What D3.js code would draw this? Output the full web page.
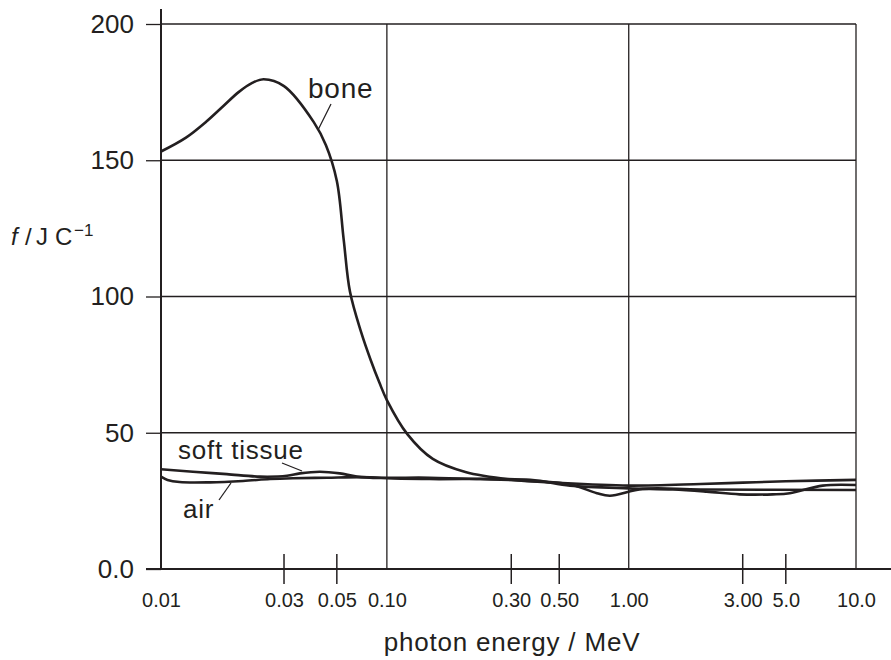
<!DOCTYPE html>
<html>
<head>
<meta charset="utf-8">
<script src="https://cdn.jsdelivr.net/npm/d3@7"></script>
<style>
  body { margin: 0; background: #fff; }
  svg { display: block; font-family: "Liberation Sans", Arial, Helvetica, sans-serif; }
  text { fill: #231f20; }
</style>
</head>
<body>
<svg id="chart"></svg>
<script>
// ---- data ----
var xTickValues = [0.01, 0.03, 0.05, 0.1, 0.3, 0.5, 1, 3, 5, 10];
var xTickLabels = ["0.01", "0.03", "0.05", "0.10", "0.30", "0.50", "1.00", "3.00", "5.0", "10.0"];
var xGridValues = [0.1, 1, 10];
var xMinorValues = [0.03, 0.05, 0.3, 0.5, 3, 5];
var yTickValues = [0, 50, 100, 150, 200];
var yTickLabels = ["0.0", "50", "100", "150", "200"];

var boneEnergy = [0.01, 0.0125, 0.015, 0.0175, 0.02, 0.0225, 0.025, 0.03, 0.04, 0.045, 0.05, 0.055, 0.06, 0.07, 0.08, 0.09, 0.1, 0.12, 0.15, 0.2, 0.3, 0.5, 1, 2, 3, 5, 10];
var boneF      = [153.2, 158.3, 164.2, 170.0, 175.0, 178.3, 179.7, 177.2, 164.0, 155.5, 142.4, 120.8, 101.7, 86.9, 76.6, 68.5, 62.0, 49.4, 40.4, 35.6, 32.8, 31.6, 30.6, 31.2, 31.7, 32.2, 32.7];

var tissueEnergy = [0.01, 0.0133, 0.018, 0.0242, 0.0309, 0.035, 0.0424, 0.0521, 0.066, 0.1, 0.146, 0.367, 0.557, 1.0, 1.53, 2.12, 2.91, 4.28, 5.2, 7.2, 10];
var tissueF      = [36.6, 35.7, 34.8, 33.9, 34.2, 35.1, 35.7, 35.1, 33.9, 33.3, 33.0, 32.7, 30.6, 29.6, 29.2, 28.4, 27.4, 27.4, 27.8, 30.6, 30.8];

var airEnergy = [0.01, 0.0106, 0.0118, 0.0155, 0.0208, 0.0265, 0.0327, 0.0454, 0.0688, 0.1, 0.146, 0.228, 0.367, 0.557, 0.728, 0.829, 1.144, 2.0, 10];
var airF      = [33.9, 32.7, 31.9, 31.8, 32.3, 33.0, 33.3, 33.5, 33.7, 33.5, 33.5, 33.0, 32.3, 31.1, 27.8, 26.9, 29.4, 29.2, 29.0];

// ---- layout ----
var width = 891,
    height = 660,
    margin = {top: 24, right: 35, bottom: 91, left: 161},
    ink = "#231f20";

var plotW = width - margin.left - margin.right;

// the printed energy axis is not evenly logarithmic, so the scale is piecewise
var xStops = [0, 0.177, 0.253, 0.325, 0.504, 0.573, 0.673, 0.837, 0.899, 1];

var x = d3.scaleLog()
    .domain(xTickValues)
    .range(xStops.map(f => margin.left + f * plotW));

var y = d3.scaleLinear()
    .domain([0, 200])
    .range([height - margin.bottom, margin.top]);

var svg = d3.select("#chart")
    .attr("width", width)
    .attr("height", height);

// grid
svg.append("g")
    .selectAll("line")
    .data(yTickValues.filter(d => d > 0))
    .join("line")
    .attr("x1", margin.left)
    .attr("x2", x(10))
    .attr("y1", d => y(d))
    .attr("y2", d => y(d))
    .attr("stroke", ink)
    .attr("stroke-width", 1.3);

svg.append("g")
    .selectAll("line")
    .data(xGridValues)
    .join("line")
    .attr("x1", d => x(d))
    .attr("x2", d => x(d))
    .attr("y1", y(200))
    .attr("y2", y(0))
    .attr("stroke", ink)
    .attr("stroke-width", 1.3);

// y axis
var yAxis = svg.append("g")
    .attr("transform", `translate(${margin.left}, 0)`)
    .call(d3.axisLeft(y)
        .tickValues(yTickValues)
        .tickFormat((d, i) => yTickLabels[i])
        .tickSize(15)
        .tickPadding(12));
yAxis.select(".domain").remove();
yAxis.selectAll(".tick line").attr("stroke", ink).attr("stroke-width", 1.3);
yAxis.selectAll(".tick text")
    .attr("fill", ink)
    .style("font-size", "26px")
    .style("font-family", "inherit");

svg.append("line")
    .attr("x1", margin.left).attr("x2", margin.left)
    .attr("y1", 9).attr("y2", y(0))
    .attr("stroke", ink)
    .attr("stroke-width", 2);

// x axis
svg.append("line")
    .attr("x1", margin.left - 15).attr("x2", width)
    .attr("y1", y(0)).attr("y2", y(0))
    .attr("stroke", ink)
    .attr("stroke-width", 2);

svg.append("g")
    .selectAll("line")
    .data(xMinorValues)
    .join("line")
    .attr("x1", d => x(d))
    .attr("x2", d => x(d))
    .attr("y1", y(0) - 15)
    .attr("y2", y(0) + 15)
    .attr("stroke", ink)
    .attr("stroke-width", 1.5);

var xAxis = svg.append("g")
    .attr("transform", `translate(0, ${y(0)})`)
    .call(d3.axisBottom(x)
        .tickValues(xTickValues)
        .tickFormat((d, i) => xTickLabels[i])
        .tickSize(0)
        .tickPadding(24));
xAxis.select(".domain").remove();
xAxis.selectAll(".tick text")
    .attr("fill", ink)
    .style("font-size", "20px")
    .style("font-family", "inherit");

// axis titles
svg.append("text")
    .attr("x", 512)
    .attr("y", 651)
    .attr("text-anchor", "middle")
    .style("font-size", "26px")
    .style("letter-spacing", "0.8px")
    .text("photon energy / MeV");

var ylab = svg.append("text")
    .attr("y", 245)
    .style("font-size", "24px");
ylab.append("tspan").attr("x", 11).style("font-style", "italic").text("f");
ylab.append("tspan").attr("x", 25).text("/");
ylab.append("tspan").attr("x", 36).text("J");
ylab.append("tspan").attr("x", 55).text("C");
ylab.append("tspan").attr("x", 74).attr("y", 236).style("font-size", "17px").text("\u22121");

// curves
var line = d3.line()
    .x(d => x(d[0]))
    .y(d => y(d[1]))
    .curve(d3.curveCatmullRom.alpha(0.5));

var series = [
    d3.zip(boneEnergy, boneF),
    d3.zip(tissueEnergy, tissueF),
    d3.zip(airEnergy, airF)
];

svg.append("g")
    .selectAll("path")
    .data(series)
    .join("path")
    .attr("d", line)
    .attr("fill", "none")
    .attr("stroke", ink)
    .attr("stroke-width", 2.6)
    .attr("stroke-linejoin", "round");

// curve labels with leader lines
var labels = [
    {text: "bone", x: 308, y: 98, size: 28, lx1: 331, ly1: 104, lx2: 318, ly2: 130},
    {text: "soft tissue", x: 178, y: 459, size: 26, lx1: 282, ly1: 463, lx2: 302, ly2: 471},
    {text: "air", x: 183, y: 518, size: 26, lx1: 219, ly1: 500, lx2: 231, ly2: 483}
];

svg.append("g")
    .selectAll("text")
    .data(labels)
    .join("text")
    .attr("x", d => d.x)
    .attr("y", d => d.y)
    .style("font-size", d => d.size + "px")
    .style("letter-spacing", "0.8px")
    .text(d => d.text);

svg.append("g")
    .selectAll("line")
    .data(labels)
    .join("line")
    .attr("x1", d => d.lx1).attr("y1", d => d.ly1)
    .attr("x2", d => d.lx2).attr("y2", d => d.ly2)
    .attr("stroke", ink)
    .attr("stroke-width", 1.3);
</script>
</body>
</html>
